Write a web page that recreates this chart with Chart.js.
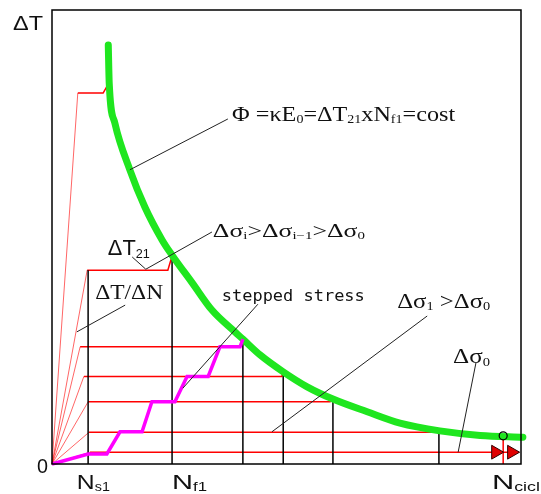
<!DOCTYPE html>
<html>
<head>
<meta charset="utf-8">
<script src="https://cdn.jsdelivr.net/npm/chart.js@4/dist/chart.umd.min.js"></script>
<style>
  html, body { margin: 0; padding: 0; background: #fff; }
</style>
</head>
<body>
<canvas id="fatigueChart" width="541" height="494"></canvas>
<script>
// N (cycles) and ΔT, both on a 0-100 schematic scale

// Φ = const curve
const phiN = [12.0, 12.2, 13.4, 16.6, 19.8, 23.5, 25.6, 29.9, 34.1, 39.0, 40.7, 44.4, 49.3, 54.4, 59.9, 67.2, 74.2, 82.7, 91.3, 100.4];
const phiT = [92.3, 83.9, 75.1, 64.8, 56.6, 49.3, 46.0, 39.9, 33.9, 29.1, 27.5, 24.0, 20.3, 17.0, 14.3, 11.5, 9.0, 7.3, 6.3, 5.9];

// load levels: ramp corner, end of plateau, failure point on the curve
const levelT    = [2.6, 7.0, 13.7, 19.3, 25.8, 42.7, 81.7];
const rampN     = [8.1, 7.9, 7.7, 6.8, 6.0, 7.5, 5.5];
const plateauN  = [99.6, 82.5, 59.3, 49.0, 40.1, 24.7, 10.9];
const failN     = [null, 82.5, 59.9, 49.3, 40.7, 25.6, 11.9];
const failT     = [null, 7.0, 14.5, 20.3, 27.5, 45.8, 83.5];

// black drop lines: N_s1 and the failure points of the measured levels
const dropN = [7.7, 25.6, 40.7, 49.3, 59.9, 82.5];
const dropT = [42.7, 45.8, 27.5, 20.3, 14.5, 7.0];

// stepped stress path
const stressN = [0, 7.7, 11.7, 14.5, 19.2, 21.3, 26.2, 28.8, 33.3, 35.8, 40.1, 40.7];
const stressT = [0, 2.2, 2.2, 7.1, 7.1, 13.7, 13.7, 19.3, 19.3, 25.8, 25.8, 27.5];

// arrow heads on the last plateau and the N cicli marker
const arrowN = [94.6, 98.0];
const cicliN = 96.2;
const cicliT = 6.2;

// leader lines (null separates them)
const leaderN = [16.6, 37.5, null, 17.1, 20.0, 34.1, null, 15.6, 5.3, null, 43.9, 27.9, null, 80.0, 46.9, null, 90.4, 86.6];
const leaderT = [64.8, 76.0, null, 45.6, 42.9, 51.1, null, 35.0, 29.1, null, 35.2, 16.7, null, 32.6, 7.1, null, 22.3, 2.6];

const pts = (xs, ys) => xs.map((x, i) => ({ x: x, y: ys[i] }));
const line = (data, color, width, order, extra) => Object.assign({
    data: data, showLine: true, borderColor: color, borderWidth: width,
    pointRadius: 0, tension: 0, clip: false, order: order
}, extra || {});

const datasets = [];
datasets.push(line(pts(phiN, phiT), '#1fe61f', 7, 2, { cubicInterpolationMode: 'monotone', borderCapStyle: 'round' }));
datasets.push(line(pts(stressN, stressT), '#ff00ff', 3.5, 1));
datasets.push(line(pts(leaderN, leaderT), '#222', 1, 0));

levelT.forEach((t, i) => {
    // fan from origin to the ramp corner
    datasets.push(line([{ x: 0, y: 0 }, { x: rampN[i], y: t }], 'rgba(255,0,0,0.6)', 1, 5));
    const plateau = [{ x: rampN[i], y: t }, { x: plateauN[i], y: t }];
    if (failN[i] !== null) plateau.push({ x: failN[i], y: failT[i] });
    datasets.push(line(plateau, '#ff0000', 1.5, 4));
});
dropN.forEach((n, i) => {
    datasets.push(line([{ x: n, y: 0 }, { x: n, y: dropT[i] }], '#000', 1.5, 3));
});
datasets.push(line([{ x: cicliN, y: 0 }, { x: cicliN, y: cicliT }], '#ff0000', 1.5, 4));
datasets.push({
    data: arrowN.map(n => ({ x: n, y: levelT[0] })), showLine: false, clip: false, order: 0,
    pointStyle: 'triangle', rotation: 90, pointRadius: 8,
    backgroundColor: '#e00000', borderColor: '#300', borderWidth: 1
});
datasets.push({
    data: [{ x: cicliN, y: cicliT }], showLine: false, clip: false, order: 0,
    pointStyle: 'circle', pointRadius: 4,
    backgroundColor: 'rgba(0,0,0,0)', borderColor: '#000', borderWidth: 1.2
});

const serif = '"Liberation Serif", "Times New Roman", serif';
const sans = '"Liberation Sans", Arial, sans-serif';
const mono = '"DejaVu Sans Mono", monospace';

function drawRich(ctx, x, y, parts, family, size, width) {
    const sub = size * 0.58;
    let natural = 0;
    parts.forEach(([txt, isSub]) => {
        ctx.font = (isSub ? sub : size) + 'px ' + family;
        natural += ctx.measureText(txt).width;
    });
    ctx.save();
    ctx.translate(x, y);
    ctx.scale(width / natural, 1);
    let cx = 0;
    parts.forEach(([txt, isSub]) => {
        ctx.font = (isSub ? sub : size) + 'px ' + family;
        ctx.fillText(txt, cx, isSub ? size * 0.12 : 0);
        cx += ctx.measureText(txt).width;
    });
    ctx.restore();
}

const sketchPlugin = {
    id: 'sketch',
    beforeDraw(chart) {
        const ctx = chart.ctx;
        ctx.save();
        ctx.fillStyle = '#fff';
        ctx.fillRect(0, 0, chart.width, chart.height);
        ctx.restore();
    },
    afterDatasetsDraw(chart) {
        const { ctx, chartArea: a, scales: { x, y } } = chart;
        ctx.save();
        ctx.strokeStyle = '#000';
        ctx.lineWidth = 1.5;
        ctx.strokeRect(a.left, a.top, a.right - a.left, a.bottom - a.top);

        const notes = [
            [-8.3, 95.6, sans, 21, 30, [['ΔT']]],
            [-3.2, -2.0, sans, 21, 11, [['0']]],
            [5.3, -5.5, sans, 21, 33, [['N'], ['s1', true]]],
            [25.6, -5.5, sans, 21, 35, [['N'], ['f1', true]]],
            [93.8, -5.5, sans, 21, 52, [['N'], ['cicli', true]]],
            [11.9, 46.0, sans, 22, 42, [['ΔT'], ['21', true]]],
            [9.2, 36.3, serif, 21, 68, [['ΔT/ΔN']]],
            [34.3, 50.0, serif, 18, 152, [['Δσ'], ['i', true], ['>Δσ'], ['i−1', true], ['>Δσ'], ['0', true]]],
            [38.4, 75.6, serif, 20, 223, [['Φ =κE'], ['0', true], ['=ΔT'], ['21', true], ['xN'], ['f1', true], ['=cost']]],
            [36.2, 35.9, mono, 16, 143, [['stepped stress']]],
            [73.6, 34.4, serif, 20, 93, [['Δσ'], ['1', true], [' >Δσ'], ['0', true]]],
            [85.5, 22.2, serif, 20, 37, [['Δσ'], ['0', true]]]
        ];
        ctx.fillStyle = '#111';
        ctx.textBaseline = 'alphabetic';
        ctx.textAlign = 'left';
        notes.forEach(([n, t, fam, size, w, parts]) => {
            drawRich(ctx, x.getPixelForValue(n), y.getPixelForValue(t), parts, fam, size, w);
        });
        ctx.restore();
    }
};

new Chart(document.getElementById('fatigueChart'), {
    type: 'scatter',
    data: { datasets: datasets },
    options: {
        responsive: false,
        animation: false,
        layout: { padding: { left: 52, top: 10, right: 20, bottom: 30 } },
        plugins: { legend: { display: false }, tooltip: { enabled: false } },
        scales: {
            x: { type: 'linear', min: 0, max: 100, display: false },
            y: { type: 'linear', min: 0, max: 100, display: false }
        }
    },
    plugins: [sketchPlugin]
});
</script>
</body>
</html>
